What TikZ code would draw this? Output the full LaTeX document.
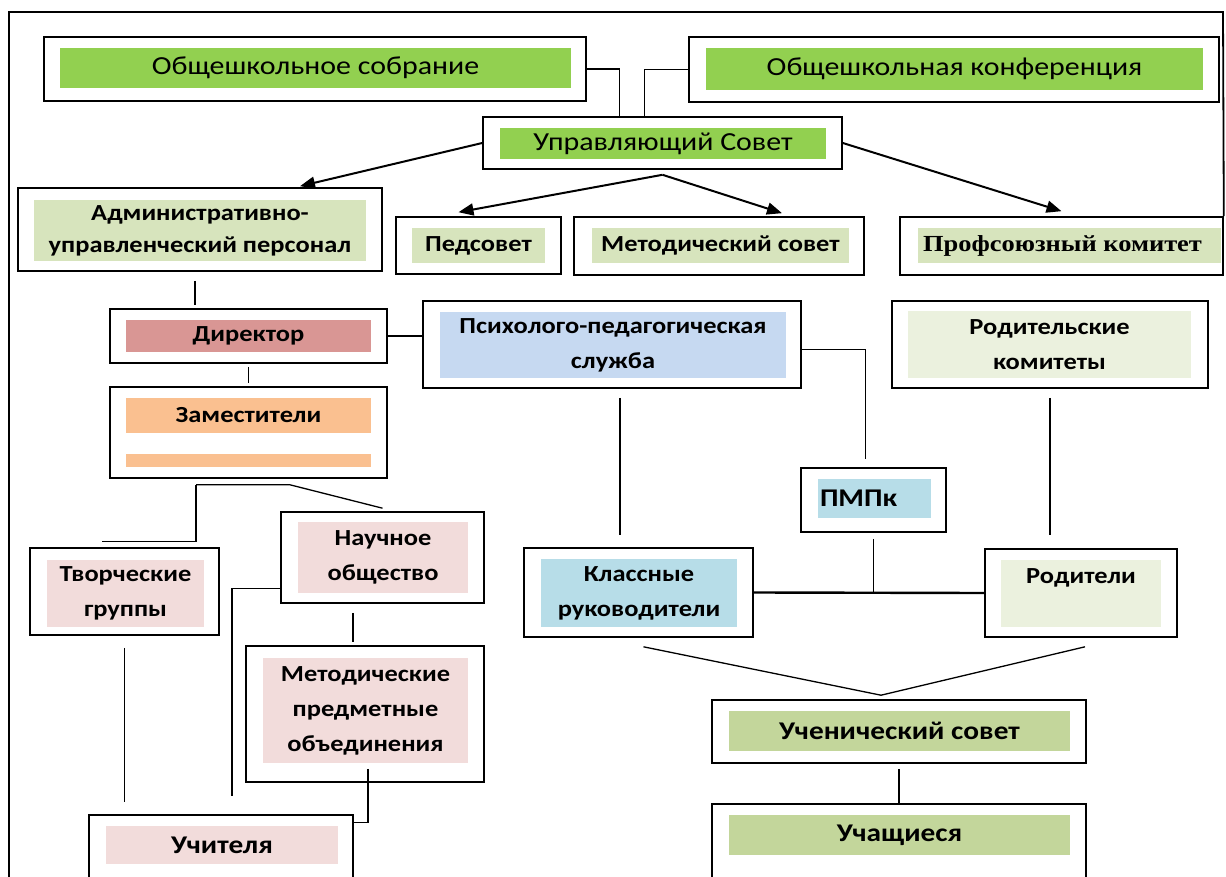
\documentclass[tikz,border=0pt]{standalone}
\usepackage{fontspec}
\setmainfont{Carlito}[FakeStretch=1.15]
\newfontfamily\tnr{Liberation Serif}[FakeStretch=1.15]
\usetikzlibrary{arrows.meta}
\definecolor{grn}{HTML}{92D050}
\definecolor{olv}{HTML}{D7E4BD}
\definecolor{dirc}{HTML}{D99694}
\definecolor{zamc}{HTML}{FAC090}
\definecolor{psyc}{HTML}{C6D9F1}
\definecolor{pnk}{HTML}{F2DCDB}
\definecolor{cyn}{HTML}{B7DDE8}
\definecolor{lgr}{HTML}{EBF1DE}
\definecolor{ucc}{HTML}{C3D69B}

\begin{document}
\begin{tikzpicture}[x=1pt,y=-1pt,
  sz/.style 2 args={minimum width=#1pt,minimum height=#2pt},
  box/.style={draw,line width=1.6pt,fill=white,inner sep=0pt},
  lbl/.style={inner sep=0pt,align=center,font=\fontsize{23}{35}\selectfont\bfseries},
  big/.style={lbl,font=\fontsize{25.5}{35}\selectfont\bfseries},
  ttl/.style={inner sep=0pt,align=center,font=\fontsize{26}{30}\selectfont},
  con/.style={line width=1.3pt},
  arr/.style={line width=2pt,-{Triangle[length=15pt,width=12pt]}}]
\useasboundingbox (0,0) rectangle (1226,877);
\clip (0,0) rectangle (1226,877);
\node [box,sz={542}{64}] (sobr) at (315,69) {};
\node [box,sz={530}{65}] (konf) at (954,69.5) {};
\node [box,sz={359}{52}] (upr) at (662.5,143) {};
\node [box,sz={364}{83}] (adm) at (200,229.5) {};
\node [box,sz={165}{57}] (ped) at (478.5,245.5) {};
\node [box,sz={290}{58}] (met) at (719,246) {};
\node [box,sz={323}{58}] (prof) at (1061.5,246) {};
\node [box,sz={277}{54}] (dir) at (248.5,336) {};
\node [box,sz={277}{91}] (zam) at (248.5,432.5) {};
\node [box,sz={378}{87}] (psy) at (612,344.5) {};
\node [box,sz={316}{87}] (rk) at (1050,344.5) {};
\node [box,sz={145}{64}] (pmpk) at (873.5,500) {};
\node [box,sz={203}{91}] (nauch) at (382.5,557.5) {};
\node [box,sz={189}{87}] (tvor) at (124.5,591.5) {};
\node [box,sz={229}{89}] (kl) at (638.5,592.5) {};
\node [box,sz={192}{88}] (rod) at (1081,593) {};
\node [box,sz={238}{136}] (mpo) at (365,714) {};
\node [box,sz={264}{85}] (uch) at (221,857.5) {};
\node [box,sz={374}{63}] (us) at (899,731.5) {};
\node [box,sz={374}{96}] (ucha) at (899,852) {};

\node [ttl,fill=grn,sz={511}{40}] (sobr-t) at (315.5,68) {Общешкольное собрание};
\node [ttl,fill=grn,sz={497}{42}] (konf-t) at (954.5,69) {Общешкольная конференция};
\node [ttl,fill=grn,sz={326}{31}] (upr-t) at (663,143.5) {Управляющий Совет};
\node [lbl,fill=olv,sz={332}{61},font=\fontsize{23}{32}\selectfont\bfseries] (adm-t) at (200,230.5) {Административно-\\управленческий персонал};
\node [lbl,fill=olv,sz={133}{35}] (ped-t) at (478.5,245.5) {Педсовет};
\node [lbl,fill=olv,sz={257}{35}] (met-t) at (720.5,245.5) {Методический совет};
\node [lbl,fill=olv,sz={303}{35},font=\fontsize{23}{30}\selectfont\tnr\bfseries] (prof-t) at (1069.5,245.5) {Профсоюзный комитет\hspace*{14pt}};
\node [lbl,fill=dirc,sz={245}{32}] (dir-t) at (248.5,336) {Директор};
\node [lbl,fill=zamc,sz={245}{35}] (zam-t) at (248.5,415.5) {Заместители};
\node [fill=zamc,inner sep=0pt,sz={245}{13}] (zam-s) at (248.5,460.5) {};
\node [lbl,fill=psyc,sz={346}{66}] (psy-t) at (613,345) {Психолого-педагогическая\\служба};
\node [lbl,fill=lgr,sz={283}{67}] (rk-t) at (1049.5,344.5) {Родительские\\комитеты};
\node [big,fill=cyn,minimum height=39pt,text width=109pt,inner xsep=2pt,align=left] (pmpk-t) at (874.5,498.5) {ПМПк};
\node [lbl,fill=pnk,sz={170}{71}] (nauch-t) at (383,557.5) {Научное\\общество};
\node [lbl,fill=pnk,sz={157}{67}] (tvor-t) at (125.5,593.5) {Творческие\\группы};
\node [lbl,fill=cyn,sz={196}{68}] (kl-t) at (639,593) {Классные\\руководители};
\node [lbl,fill=lgr,sz={160}{67}] (rod-t) at (1081,593.5) {Родители\\\mbox{}};
\node [lbl,fill=pnk,sz={205}{105}] (mpo-t) at (365.5,710.5) {Методические\\предметные\\объединения};
\node [big,fill=pnk,sz={232}{38}] (uch-t) at (222,845) {Учителя};
\node [big,fill=ucc,sz={341}{40}] (us-t) at (899.5,731) {Ученический совет};
\node [big,fill=ucc,sz={341}{40}] (ucha-t) at (899.5,835) {Учащиеся};

\draw [line width=1.8pt] (9,900) |- (1223,12) -- (prof.north east);
\draw [con] (sobr.east) -| ([xshift=-43pt]upr.north);
\draw [con] (konf.west) -| ([xshift=-18pt]upr.north);
\coordinate (br) at ([yshift=-5pt]upr.south);
\draw [arr] (upr.west) -- ([xshift=100pt,yshift=1pt]adm.north);
\draw [arr] (br) -- ([xshift=-20pt,yshift=4pt]ped.north);
\draw [arr] (br) -- ([xshift=63pt,yshift=3pt]met.north);
\draw [arr] (upr.east) -- ([yshift=5pt]prof.north);
\draw [con,shorten >=3pt] ([xshift=-5pt,yshift=-9pt]adm.south) -- ([xshift=-5pt]adm.south |- dir.north);
\draw [con] (dir.east) -- (dir.east -| psy.west);
\draw [con,shorten <=3pt,shorten >=3pt] (dir.south) -- (zam.north);
\coordinate (zt) at ([xshift=-52.5pt,yshift=-6pt]zam.south);
\draw [con] (zt) -- ++(94,0) -- ([yshift=3pt]nauch.north);
\draw [con] (zt) |- ([xshift=-22.5pt,yshift=6pt]tvor.north);
\draw [con,shorten >=18pt] ([yshift=-31pt]nauch.west) -| ([xshift=11pt]uch.north);
\draw [con,shorten <=9pt,shorten >=3pt] ([xshift=-29.5pt]nauch.south) -- ([xshift=-29.5pt]nauch.south |- mpo.north);
\draw [con,shorten <=12pt,shorten >=12pt] (tvor.south) -- (tvor.south |- uch.north);
\draw [con] ([xshift=3pt,yshift=14pt]mpo.south) |- ([yshift=-8pt]uch.north east);
\draw [con] ([yshift=-5pt]psy.east) -| ([xshift=-8pt,yshift=8pt]pmpk.north);
\draw [con,shorten <=9pt,shorten >=12pt] ([xshift=8pt]psy.south) -- ([xshift=8pt]psy.south |- kl.north);
\draw [con,shorten <=9pt,shorten >=13pt] (rk.south) -- (rk.south |- rod.north);
\draw [line width=2.4pt] (kl.east) -- (rod.west);
\draw [con,shorten <=6pt] (pmpk.south) -- (pmpk.south |- kl.east);
\coordinate (m) at ([xshift=-18pt,yshift=4pt]us.north);
\draw [con] ([xshift=5pt,yshift=-9pt]kl.south) -- (m) -- ([xshift=4pt,yshift=-9pt]rod.south);
\draw [con,shorten <=5pt] (us.south) -- (ucha.north);
\end{tikzpicture}
\end{document}
